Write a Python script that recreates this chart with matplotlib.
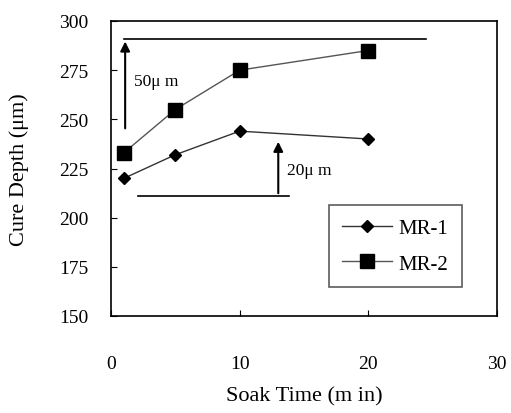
import matplotlib.pyplot as plt

soak = [1, 5, 10, 20]
mr1 = [220, 232, 244, 240]
mr2 = [233, 255, 275, 285]

plt.rcParams['font.family'] = ['Liberation Serif', 'DejaVu Serif']
plt.rcParams['font.size'] = 11

fig = plt.figure(figsize=(5.11, 4.14), dpi=100)
ax = fig.add_axes([111 / 511, 1 - 317 / 414, 386 / 511, 295 / 414])

ax.plot(soak, mr1, color='#333333', lw=1.0, marker='D', ms=6.5, mfc='black', mec='black', label='MR-1')
ax.plot(soak, mr2, color='#555555', lw=1.0, marker='s', ms=10, mfc='black', mec='black', label='MR-2')

# difference markers
ax.plot([1, 24.5], [291, 291], color='black', lw=1.2)
ax.annotate('', xy=(1.1, 291), xytext=(1.1, 244),
            arrowprops=dict(arrowstyle='-|>', color='black', lw=1.5, mutation_scale=14))
ax.text(1.8, 269.5, '50\u03bc m', va='center', ha='left', fontsize=12.5)

ax.plot([2.1, 13.8], [211, 211], color='black', lw=1.2)
ax.annotate('', xy=(13.0, 240), xytext=(13.0, 211),
            arrowprops=dict(arrowstyle='-|>', color='black', lw=1.5, mutation_scale=14))
ax.text(13.7, 224, '20\u03bc m', va='center', ha='left', fontsize=12.5)

ax.set_xlim(0, 30)
ax.set_ylim(150, 300)
ax.set_xticks([0, 10, 20, 30])
ax.set_yticks([150, 175, 200, 225, 250, 275, 300])
ax.tick_params(axis='x', direction='in', length=4, pad=28, labelsize=14)
ax.tick_params(axis='y', direction='in', length=4, pad=16, labelsize=14)
for s in ax.spines.values():
    s.set_linewidth(1.2)

ax.set_xlabel('Soak Time (m in)', fontsize=16, labelpad=10)
ax.set_ylabel('Cure Depth (\u03bcm)', fontsize=16, labelpad=22)

leg = ax.legend(loc='lower right', bbox_to_anchor=(0.909, 0.098), borderaxespad=0,
                fontsize=15, fancybox=False, edgecolor='#333333', handlelength=2.4,
                borderpad=0.65, labelspacing=0.75, handletextpad=0.3)
leg.get_frame().set_linewidth(1.2)

fig.savefig('out.png', dpi=100)
